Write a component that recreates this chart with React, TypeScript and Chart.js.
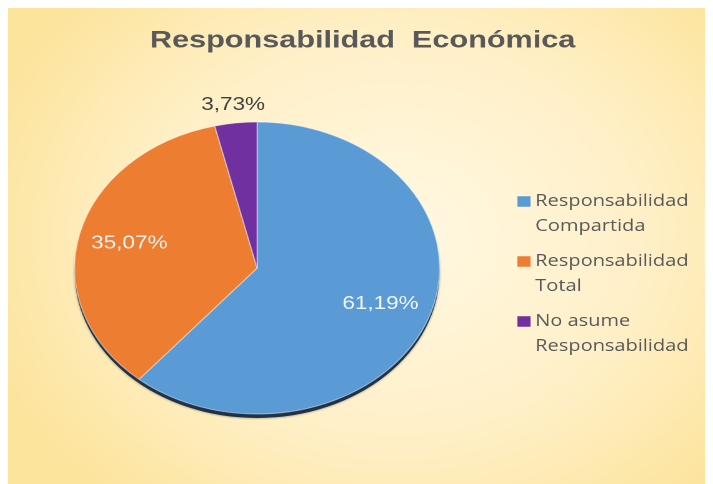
import { useEffect, useRef } from "react";
import { Chart, registerables } from "chart.js";

Chart.register(...registerables);

// ---- data ----
const categories: string[][] = [
  ["Responsabilidad", "Compartida"],
  ["Responsabilidad", "Total"],
  ["No asume", "Responsabilidad"],
];
const percentages: number[] = [61.19, 35.07, 3.73];
const sliceColors: string[] = ["#5b9bd5", "#ed7d31", "#7030a0"];
const chartTitle = "Responsabilidad  Económica";

// logical drawing size; the image is shown stretched horizontally
const LOGICAL_W = 564;
const LOGICAL_H = 476;
const DISPLAY_W = 705;
const TITLE_SHIFT_X = 6.5;
const AREA_SHIFT_LEFT = 3.2;

const backgroundPlugin = {
  id: "bgGradient",
  beforeDraw(chart: any) {
    const { ctx, width, height } = chart;
    ctx.save();
    const g = ctx.createRadialGradient(width * 0.55, height * 0.48, 10, width * 0.55, height * 0.48, width * 0.62);
    g.addColorStop(0, "#fff8e2");
    g.addColorStop(0.55, "#fff0c8");
    g.addColorStop(1, "#fde49c");
    ctx.fillStyle = g;
    ctx.fillRect(0, 0, width, height);
    ctx.restore();
  },
};

const layoutTweakPlugin = {
  id: "layoutTweak",
  afterLayout(chart: any) {
    const t = chart.titleBlock;
    if (t) {
      t.left += TITLE_SHIFT_X;
      t.right += TITLE_SHIFT_X;
    }
    const ca = chart.chartArea;
    if (ca) {
      ca.left -= AREA_SHIFT_LEFT;
      ca.width = ca.right - ca.left;
    }
  },
};

const shadowPlugin = {
  id: "pieShadow",
  beforeDatasetsDraw(chart: any) {
    const meta = chart.getDatasetMeta(0);
    if (!meta || !meta.data.length) return;
    const { x, y, outerRadius } = meta.data[0].getProps(["x", "y", "outerRadius"], true);
    const ctx = chart.ctx;
    ctx.save();
    ctx.shadowColor = "rgba(0,0,0,0.35)";
    ctx.shadowBlur = 4;
    ctx.shadowOffsetY = 1;
    ctx.fillStyle = "#1f3249";
    ctx.beginPath();
    ctx.arc(x, y + 4, outerRadius, 0, Math.PI * 2);
    ctx.fill();
    ctx.restore();
  },
};

const labelPlugin = {
  id: "sliceLabels",
  afterDraw(chart: any) {
    const meta = chart.getDatasetMeta(0);
    const ctx = chart.ctx;
    const data = chart.data.datasets[0].data as number[];
    ctx.save();
    ctx.font = "18px 'Liberation Sans', Arial, sans-serif";
    ctx.textAlign = "center";
    ctx.textBaseline = "middle";
    meta.data.forEach((arc: any, i: number) => {
      const { x, y, startAngle, endAngle, outerRadius } = arc.getProps(
        ["x", "y", "startAngle", "endAngle", "outerRadius"],
        true
      );
      const mid = (startAngle + endAngle) / 2;
      const small = data[i] < 10;
      const rf = small ? 1.125 : 0.72;
      const lx = x + Math.cos(mid) * outerRadius * rf;
      const ly = y + Math.sin(mid) * outerRadius * rf;
      ctx.fillStyle = small ? "#404040" : "#f4f4f4";
      ctx.fillText(data[i].toFixed(2).replace(".", ",") + "%", lx, ly);
    });
    ctx.restore();
  },
};

export default function App() {
  const ref = useRef<HTMLCanvasElement | null>(null);

  useEffect(() => {
    document.documentElement.style.overflow = "hidden";
    const canvas = ref.current!;
    const chart = new Chart(canvas, {
      type: "pie",
      data: {
        labels: categories as any,
        datasets: [
          {
            data: percentages,
            backgroundColor: sliceColors,
            borderColor: "rgba(255,255,255,0.45)",
            borderWidth: 1,
            radius: 146,
          } as any,
        ],
      },
      options: {
        responsive: false,
        animation: false,
        devicePixelRatio: 2,
        layout: { padding: { left: 0, right: 9.6, top: 0, bottom: 13.4 } },
        plugins: {
          tooltip: { enabled: false },
          title: {
            display: true,
            text: chartTitle,
            color: "#595959",
            font: { family: "'Liberation Sans', Arial, sans-serif", size: 24.5, weight: "bold" },
            padding: { top: 18, bottom: 10 },
          },
          legend: {
            position: "right",
            fullSize: false,
            title: { display: true, text: " ", font: { size: 10 }, padding: { top: 9, bottom: 0 } },
            labels: {
              color: "#595959",
              font: { family: "'Open Sans', sans-serif", size: 16, lineHeight: 1.5625 },
              usePointStyle: true,
              pointStyle: "rect",
              boxWidth: 2,
              boxHeight: 10.5,
              padding: 10,
              generateLabels: (c: any) =>
                (Chart as any).overrides.pie.plugins.legend.labels
                  .generateLabels(c)
                  .map((l: any) => ({ ...l, lineWidth: 0 })),
            },
          },
        },
      },
      plugins: [backgroundPlugin, layoutTweakPlugin, shadowPlugin, labelPlugin],
    });
    return () => chart.destroy();
  }, []);

  return (
    <div>
      <canvas
        ref={ref}
        width={LOGICAL_W}
        height={LOGICAL_H}
        style={{ width: `${DISPLAY_W}px`, height: `${LOGICAL_H}px`, display: "block" }}
      />
    </div>
  );
}
